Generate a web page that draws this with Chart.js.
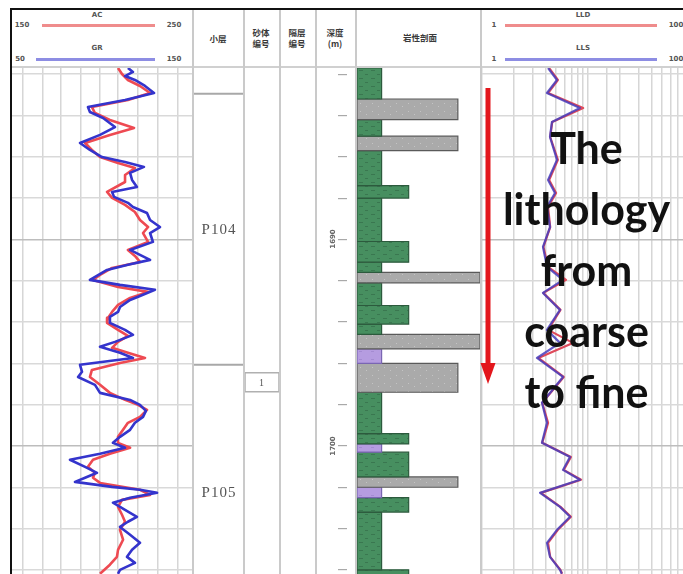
<!DOCTYPE html>
<html>
<head>
<meta charset="utf-8">
<script src="https://cdn.jsdelivr.net/npm/chart.js@4.4.1/dist/chart.umd.min.js"></script>
<style>
  html, body { margin: 0; padding: 0; background: #fff; }
  body { width: 683px; height: 574px; overflow: hidden; position: relative; font-family: "DejaVu Sans", sans-serif; }
  canvas { position: absolute; display: block; }
  .abs { position: absolute; }
  .vline { position: absolute; top: 10px; width: 2px; height: 564px; background: #cacaca; }
  .hdr { position: absolute; color: #555; font-size: 7px; font-weight: bold; white-space: nowrap; transform: translate(-50%, -50%); }
  .cn { position: absolute; color: #3a3a3a; font-family: "Noto Sans CJK SC", sans-serif; font-size: 8.5px; font-weight: bold; line-height: 11px; text-align: center; white-space: nowrap; transform: translate(-50%, -50%); }
  .zone { position: absolute; font-family: "Liberation Serif", serif; font-size: 15px; color: #555; letter-spacing: 1px; transform: translate(-50%, -50%); }
  .depth { position: absolute; font-size: 7px; color: #666; font-weight: bold; transform: translate(-50%, -50%) rotate(-90deg); }
  .note { position: absolute; left: 485px; top: 117px; width: 203px; text-align: center; font-family: Lato, "Open Sans", sans-serif; font-weight: bold; font-size: 43px; line-height: 61px; color: #111; z-index: 5; }
</style>
</head>
<body>

<!-- outer frame and column rules -->
<div class="abs" style="left:10px;top:8px;width:673px;height:2px;background:#111;"></div>
<div class="abs" style="left:10px;top:8px;width:2px;height:566px;background:#111;"></div>
<div class="abs" style="left:12px;top:66px;width:671px;height:2px;background:#d0d0d0;"></div>
<div class="vline" style="left:192px;"></div>
<div class="vline" style="left:243px;"></div>
<div class="vline" style="left:279px;"></div>
<div class="vline" style="left:315px;"></div>
<div class="vline" style="left:355px;"></div>
<div class="vline" style="left:480px;"></div>

<!-- track headers -->
<div class="hdr" style="left:97px;top:15px;">AC</div>
<div class="abs" style="left:42px;top:24px;width:113px;height:3px;background:#ef8c8c;"></div>
<div class="hdr" style="left:22px;top:25px;">150</div>
<div class="hdr" style="left:174px;top:25px;">250</div>
<div class="hdr" style="left:97px;top:48px;">GR</div>
<div class="abs" style="left:36px;top:58px;width:119px;height:3px;background:#8d8de3;"></div>
<div class="hdr" style="left:20px;top:59px;">50</div>
<div class="hdr" style="left:174px;top:59px;">150</div>

<div class="cn" style="left:218px;top:38px;">小层</div>
<div class="cn" style="left:261px;top:38px;">砂体<br>编号</div>
<div class="cn" style="left:297px;top:38px;">隔层<br>编号</div>
<div class="cn" style="left:335px;top:38px;">深度<br>(m)</div>
<div class="cn" style="left:420px;top:37px;">岩性剖面</div>

<div class="hdr" style="left:583px;top:15px;">LLD</div>
<div class="abs" style="left:505px;top:24px;width:152px;height:3px;background:#ef8c8c;"></div>
<div class="hdr" style="left:494px;top:25px;">1</div>
<div class="hdr" style="left:676px;top:25px;">100</div>
<div class="hdr" style="left:583px;top:48px;">LLS</div>
<div class="abs" style="left:505px;top:58px;width:152px;height:3px;background:#8d8de3;"></div>
<div class="hdr" style="left:494px;top:59px;">1</div>
<div class="hdr" style="left:676px;top:59px;">100</div>

<canvas id="logLeft"   width="180" height="506" style="left:12px;top:68px;"></canvas>
<canvas id="zoneCol"   width="49"  height="506" style="left:194px;top:68px;"></canvas>
<canvas id="sandCol"   width="34"  height="506" style="left:245px;top:68px;"></canvas>
<canvas id="depthCol"  width="38"  height="506" style="left:317px;top:68px;"></canvas>
<canvas id="lithoCol"  width="123" height="506" style="left:357px;top:68px;"></canvas>
<canvas id="logRight"  width="212" height="506" style="left:482px;top:68px;"></canvas>

<div id="labels"></div>

<svg class="abs" style="left:0;top:0;z-index:4;" width="683" height="574">
  <line x1="488" y1="88" x2="488" y2="366" stroke="#e3161c" stroke-width="5"/>
  <polygon points="480.5,363 495.5,363 488,384" fill="#e3161c"/>
</svg>

<div class="note">The<br>lithology<br>from<br>coarse<br>to fine</div>

<script>
// ---- depth frame (m) ----
const DEPTH_TOP = 1681.7;
const DEPTH_BASE = 1706.2;
const DEPTH_TICKS = [1682, 1684, 1686, 1688, 1690, 1692, 1694, 1696, 1698, 1700, 1702, 1704, 1706];
const DEPTH_LABELS = [1690, 1700];

// ---- left track: GR (API) and AC (us/m) ----
const GR_RANGE = [50, 150];
const AC_RANGE = [150, 250];
const GR_GRID = [56, 67, 77, 88, 99, 109, 120, 131, 142];

const GR_DEPTH = [
  1681.70,1681.89,1682.09,1682.28,1682.57,1682.91,1683.25,1683.59,1683.83,1684.12,
  1684.56,1684.94,1685.33,1685.67,1686.01,1686.25,1686.49,1686.78,1687.12,1687.46,
  1687.70,1687.94,1688.23,1688.43,1688.72,1689.06,1689.40,1689.69,1690.12,1690.51,
  1690.75,1690.99,1691.23,1691.48,1691.96,1692.20,1692.44,1692.74,1692.93,1693.27,
  1693.51,1693.75,1694.04,1694.38,1694.62,1694.96,1695.20,1695.49,1695.74,1696.07,
  1696.41,1696.66,1697.04,1697.43,1697.77,1698.01,1698.30,1698.59,1698.88,1699.22,
  1699.56,1699.85,1700.09,1700.38,1700.67,1701.01,1701.30,1701.54,1701.74,1701.98,
  1702.12,1702.27,1702.51,1702.75,1703.09,1703.43,1703.67,1703.92,1704.30,1704.69,
  1705.03,1705.37,1705.66,1706.00,1706.19];
const GR_VALUES = [
  114.4,117.2,112.8,118.3,123.9,128.9,112.8,92.2,93.3,100.6,
  107.2,98.9,87.8,93.3,100.0,112.8,123.3,115.6,116.7,119.4,
  105.6,106.7,114.4,117.2,125.0,126.7,132.2,126.7,128.3,115.6,
  121.1,126.7,114.4,102.8,93.3,110.0,129.4,121.1,115.6,110.0,
  108.9,104.4,104.4,112.8,117.2,107.2,98.9,110.0,117.2,87.8,
  88.9,86.7,96.1,98.9,115.6,121.1,124.4,122.8,118.3,115.6,
  110.0,106.1,112.8,98.9,82.2,90.6,97.2,90.6,85.0,105.6,
  121.1,130.6,115.6,106.1,112.8,119.4,114.4,110.0,115.6,121.1,
  116.7,113.9,118.3,110.0,108.9];

const AC_DEPTH = [
  1681.70,1681.99,1682.28,1682.57,1682.91,1683.25,1683.59,1683.88,1684.22,1684.60,
  1684.94,1685.33,1685.67,1686.01,1686.30,1686.54,1686.88,1687.22,1687.70,1687.99,
  1688.33,1688.67,1689.06,1689.40,1689.69,1690.12,1690.51,1690.80,1691.09,1691.38,
  1691.72,1691.96,1692.30,1692.54,1692.83,1693.17,1693.51,1693.80,1694.04,1694.38,
  1694.67,1694.96,1695.25,1695.49,1695.74,1695.98,1696.32,1696.66,1697.04,1697.43,
  1697.77,1698.01,1698.25,1698.59,1698.88,1699.22,1699.56,1699.85,1700.09,1700.38,
  1700.67,1701.01,1701.30,1701.54,1701.79,1702.12,1702.37,1702.61,1702.95,1703.33,
  1703.67,1704.06,1704.54,1705.03,1705.37,1705.75,1706.19];
const AC_VALUES = [
  208.9,211.1,214.4,221.1,226.7,214.4,194.4,196.1,204.4,217.8,
  204.4,190.6,194.4,198.9,208.9,218.3,212.8,212.8,202.8,205.6,
  212.8,218.3,221.1,225.6,222.8,225.6,214.4,218.3,221.1,205.6,
  198.9,195.0,208.9,225.6,215.6,208.9,205.6,203.3,202.8,208.9,
  214.4,208.9,205.6,214.4,223.9,210.0,194.4,193.3,198.9,204.4,
  212.8,220.0,225.0,221.1,214.4,211.7,208.9,208.9,215.6,204.4,
  195.0,192.2,196.1,195.0,198.9,221.1,226.7,211.1,208.9,211.1,
  212.8,210.0,211.7,208.9,208.3,204.4,198.9];

// ---- right track: resistivity (ohm.m), log scale ----
const RT_RANGE = [1, 100];
const RT_DEPTH = [
  1681.70,1682.28,1682.91,1683.64,1684.31,1685.04,1686.15,1687.12,1687.75,1688.43,
  1689.40,1690.36,1691.33,1691.96,1692.59,1693.41,1694.38,1695.01,1695.74,1696.66,
  1697.91,1698.88,1699.85,1700.53,1701.16,1701.64,1702.27,1702.95,1703.43,1704.06,
  1704.69,1705.37,1706.00,1706.19];
const LLS_VALUES = [
  4.20,5.10,4.10,8.40,4.57,4.38,5.10,4.20,4.88,4.10,
  4.38,3.76,4.10,5.81,3.76,5.44,4.10,5.44,3.30,5.81,
  3.68,4.10,3.68,6.77,5.81,8.40,3.53,5.44,6.77,5.10,
  4.10,4.38,5.44,5.66];
const LLD_VALUES = [
  4.3,5.2,4.2,9.0,4.6,4.4,5.2,4.3,5.0,4.2,
  4.4,3.8,4.2,6.2,3.8,5.5,4.2,7.2,3.4,5.9,
  3.7,4.2,3.7,6.9,5.9,8.6,3.6,5.5,6.9,5.2,
  4.2,4.4,5.5,5.7];

// ---- zones and sand bodies ----
const ZONE_NAMES = ['P104', 'P105'];
const ZONE_TOP = [1682.95, 1696.07];
const ZONE_BASE = [1696.07, 1708.4];
const SAND_NAMES = ['1'];
const SAND_TOP = [1696.46];
const SAND_BASE = [1697.38];

// ---- lithology column ----
const LITH_TOP  = [1681.7,1683.2,1684.2,1685.0,1685.7,1687.4,1688.0,1690.1,1691.1,1691.6,1692.1,1693.2,1694.1,1694.6,1695.3,1696.0,1697.4,1699.4,1699.9,1700.3,1701.5,1702.0,1702.5,1703.2,1706.0];
const LITH_BASE = [1683.2,1684.2,1685.0,1685.7,1687.4,1688.0,1690.1,1691.1,1691.6,1692.1,1693.2,1694.1,1694.6,1695.3,1696.0,1697.4,1699.4,1699.9,1700.3,1701.5,1702.0,1702.5,1703.2,1706.0,1706.4];
const LITH_CODE = ['mud','fine','mud','fine','mud','silt','mud','silt','mud','medium','mud','silt','mud','medium','calc','fine','mud','silt','calc','silt','fine','calc','silt','mud','silt'];
// grain-size class (column width) for each rock type
const LITH_GRAIN = { mud: 1, calc: 1, silt: 2.1, fine: 4.1, medium: 5 };
const LITH_STROKE = { mud: '#2c5a3d', silt: '#2c5a3d', fine: '#5a5a5a', medium: '#5a5a5a', calc: '#7a66b2' };

// small symbol tiles for the rock fills
function tile(bg, mark, draw) {
  const c = document.createElement('canvas');
  c.width = 12; c.height = 8;
  const g = c.getContext('2d');
  g.fillStyle = bg; g.fillRect(0, 0, 12, 8);
  g.fillStyle = mark; draw(g);
  return g.createPattern(c, 'repeat');
}
const mudTile  = tile('#478f60', '#3a7750', g => { g.fillRect(2, 2, 4, 1); g.fillRect(8, 6, 3, 1); });
const sandTile = tile('#aaaaaa', '#c4c4c4', g => { g.fillRect(3, 3, 1, 1); g.fillRect(9, 6, 1, 1); });
const calcTile = tile('#b59ce0', '#a48bd2', g => { g.fillRect(2, 3, 3, 1); });
const LITH_FILL = { mud: mudTile, silt: mudTile, fine: sandTile, medium: sandTile, calc: calcTile };

// ---- shared helpers ----
const HEADER_H = 68;
const baseOpts = {
  responsive: false,
  animation: false,
  devicePixelRatio: 1,
  layout: { padding: 0 },
  plugins: { legend: { display: false }, tooltip: { enabled: false } },
  events: []
};
const gridColor = (c) => (c.tick && c.tick.value % 10 === 0) ? '#bdbdbd' : '#d9d9d9';
function depthScale(showGrid) {
  return {
    type: 'linear', reverse: true, min: DEPTH_TOP, max: DEPTH_BASE,
    display: showGrid,
    ticks: { display: false },
    border: { display: false },
    grid: { drawTicks: false, color: gridColor, lineWidth: 1.5 },
    afterBuildTicks: (s) => { s.ticks = DEPTH_TICKS.map(v => ({ value: v })); }
  };
}
function pairs(depths, values) {
  return depths.map((d, i) => ({ x: values[i], y: d }));
}
function curve(label, depths, values, axis, color, width) {
  return { label, data: pairs(depths, values), xAxisID: axis, yAxisID: 'y',
           showLine: true, borderColor: color, borderWidth: width, pointRadius: 0,
           tension: 0, fill: false, borderJoinStyle: 'round' };
}

// left track
new Chart(document.getElementById('logLeft'), {
  type: 'scatter',
  data: { datasets: [
    curve('GR', GR_DEPTH, GR_VALUES, 'gr', '#3434cc', 2.6),
    curve('AC', AC_DEPTH, AC_VALUES, 'ac', '#ee4a52', 2.6)
  ]},
  options: Object.assign({}, baseOpts, {
    scales: {
      gr: { type: 'linear', axis: 'x', position: 'top', min: GR_RANGE[0], max: GR_RANGE[1],
            ticks: { display: false }, border: { display: false },
            grid: { drawTicks: false, color: '#d6d6d6', lineWidth: 1.5 },
            afterBuildTicks: (s) => { s.ticks = GR_GRID.map(v => ({ value: v })); } },
      ac: { type: 'linear', axis: 'x', position: 'top', min: AC_RANGE[0], max: AC_RANGE[1], display: false },
      y: depthScale(true)
    }
  })
});

// right track
new Chart(document.getElementById('logRight'), {
  type: 'scatter',
  data: { datasets: [
    curve('LLS', RT_DEPTH, LLS_VALUES, 'rt', 'rgba(70,62,190,0.85)', 2.2),
    curve('LLD', RT_DEPTH, LLD_VALUES, 'rt', '#de4a5a', 2.2)
  ]},
  options: Object.assign({}, baseOpts, {
    scales: {
      rt: { type: 'logarithmic', axis: 'x', position: 'top', min: RT_RANGE[0], max: RT_RANGE[1],
            ticks: { display: false }, border: { display: false },
            grid: { drawTicks: false, color: '#d6d6d6', lineWidth: 1.5 } },
      y: depthScale(true)
    }
  })
});

// zone column
const zoneChart = new Chart(document.getElementById('zoneCol'), {
  type: 'scatter',
  data: { datasets: ZONE_TOP.map((t, i) => ({
    label: ZONE_NAMES[i], data: [{ x: 0, y: t }, { x: 1, y: t }],
    showLine: true, borderColor: '#a8a8a8', borderWidth: 2, pointRadius: 0
  }))},
  options: Object.assign({}, baseOpts, {
    scales: { x: { type: 'linear', min: 0, max: 1, display: false }, y: depthScale(false) }
  })
});

// sand body column
const sandChart = new Chart(document.getElementById('sandCol'), {
  type: 'scatter',
  data: { datasets: SAND_TOP.map((t, i) => ({
    label: SAND_NAMES[i],
    data: [{ x: 0, y: t }, { x: 1, y: t }, { x: 1, y: SAND_BASE[i] }, { x: 0, y: SAND_BASE[i] }, { x: 0, y: t }],
    showLine: true, borderColor: '#b0b0b0', borderWidth: 1.5, pointRadius: 0
  }))},
  options: Object.assign({}, baseOpts, {
    scales: { x: { type: 'linear', min: 0, max: 1, display: false }, y: depthScale(false) }
  })
});

// depth column: tick marks every 2 m
const depthChart = new Chart(document.getElementById('depthCol'), {
  type: 'scatter',
  data: { datasets: [{ data: [] }] },
  options: Object.assign({}, baseOpts, {
    scales: {
      x: { type: 'linear', min: 0, max: 1, display: false },
      y: { type: 'linear', reverse: true, min: DEPTH_TOP, max: DEPTH_BASE, position: 'left',
           ticks: { display: false }, border: { display: false },
           grid: { drawOnChartArea: false, drawTicks: true, tickLength: 9, color: '#a9a9a9', lineWidth: 1.2 },
           afterBuildTicks: (s) => { s.ticks = DEPTH_TICKS.map(v => ({ value: v })); },
           afterFit: (s) => { s.width = 30; } }
    }
  })
});

// lithology column: one filled rectangle per interval
new Chart(document.getElementById('lithoCol'), {
  type: 'scatter',
  data: { datasets: LITH_TOP.map((t, i) => {
    const code = LITH_CODE[i], w = LITH_GRAIN[code], b = LITH_BASE[i];
    return {
      label: code,
      data: [{ x: 0, y: t }, { x: w, y: t }, { x: w, y: b }, { x: 0, y: b }, { x: 0, y: t }],
      showLine: true, fill: 'shape', backgroundColor: LITH_FILL[code],
      borderColor: LITH_STROKE[code], borderWidth: 1.2, pointRadius: 0
    };
  })},
  options: Object.assign({}, baseOpts, {
    scales: {
      x: { type: 'linear', min: 0, max: 5, display: false },
      y: { type: 'linear', reverse: true, min: DEPTH_TOP, max: DEPTH_BASE, display: false }
    }
  })
});

// text labels positioned from the depth scales
const labels = document.getElementById('labels');
function addLabel(cls, text, x, chart, depth) {
  const el = document.createElement('div');
  el.className = cls;
  el.textContent = text;
  el.style.left = x + 'px';
  el.style.top = (HEADER_H + chart.scales.y.getPixelForValue(depth)) + 'px';
  labels.appendChild(el);
  return el;
}
ZONE_NAMES.forEach((n, i) => addLabel('zone', n, 219, zoneChart, (ZONE_TOP[i] + ZONE_BASE[i]) / 2));
SAND_NAMES.forEach((n, i) => {
  const el = addLabel('zone', n, 262, sandChart, (SAND_TOP[i] + SAND_BASE[i]) / 2);
  el.style.fontSize = '10px';
});
DEPTH_LABELS.forEach(d => addLabel('depth', String(d), 333, depthChart, d));
</script>
</body>
</html>
